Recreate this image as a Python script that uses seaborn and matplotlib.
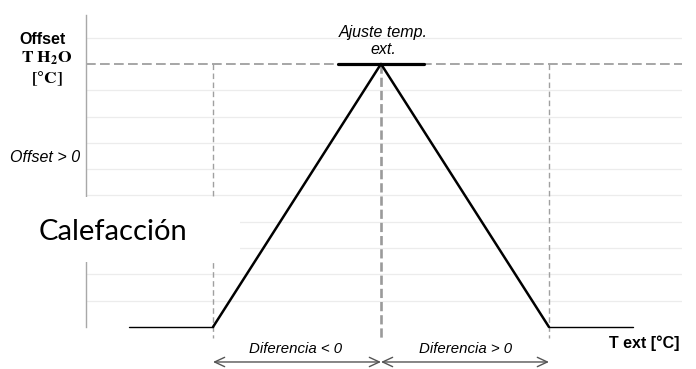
import matplotlib
matplotlib.use("Agg")
import matplotlib.pyplot as plt
import seaborn as sns
import pandas as pd
from matplotlib.patches import Rectangle

# ---- data ----
ramp_t = [-5, 0, 5]            # T ext at ramp corners
ramp_offset = [0, 10, 0]       # offset T H2O
left_flat_t = [-7.5, -5]
right_flat_t = [5, 7.5]
flat_offset = [0, 0]
peak_bar_t = [-1.27, 1.27]
peak_bar_offset = [10, 10]
marker_t = [-5, 0, 5]          # vertical dashed guides
grid_levels = [1, 2, 3, 4, 5, 6, 7, 8, 9, 11]
setpoint_level = 10

sns.set_theme(style="white")
plt.rcParams["font.family"] = ["Liberation Sans", "DejaVu Sans"]

W, H = 696, 369
fig = plt.figure(figsize=(W / 100, H / 100), dpi=100)
ax = fig.add_axes([86 / W, 1 - 327 / H, (682 - 86) / W, 312 / H])
ax.set_xlim(-8.78, 8.96)
ax.set_ylim(0, 11.86)

def fx(px):
    return px / W

def fy(py):
    return 1 - py / H

# light grid lines
for g in grid_levels:
    ax.axhline(g, color="#ececec", lw=0.9, zorder=0)

# set-point dashed line
ax.axhline(setpoint_level, color="#a6a6a6", lw=1.4, dashes=(5, 2.2), zorder=1)

# vertical dashed guides
for t in marker_t:
    if t == 0:
        ax.plot([t, t], [setpoint_level, -0.4], color="#9a9a9a", lw=1.9,
                dashes=(3.5, 1.5), clip_on=False, zorder=1)
    else:
        ax.plot([t, t], [setpoint_level, -0.4], color="#a0a0a0", lw=1.0,
                dashes=(4, 2.5), clip_on=False, zorder=1)

# main curve
df_ramp = pd.DataFrame({"t": ramp_t, "o": ramp_offset})
sns.lineplot(data=df_ramp, x="t", y="o", ax=ax, color="black", lw=1.8,
             sort=False, estimator=None, zorder=3, clip_on=False)
for xs in (left_flat_t, right_flat_t):
    d = pd.DataFrame({"t": xs, "o": flat_offset})
    sns.lineplot(data=d, x="t", y="o", ax=ax, color="black", lw=1.0,
                 estimator=None, zorder=3, clip_on=False)
d = pd.DataFrame({"t": peak_bar_t, "o": peak_bar_offset})
sns.lineplot(data=d, x="t", y="o", ax=ax, color="black", lw=2.3,
             estimator=None, zorder=4, clip_on=False)

ax.set_xlabel("")
ax.set_ylabel("")
ax.set_xticks([])
ax.set_yticks([])
for s in ("top", "right", "bottom"):
    ax.spines[s].set_visible(False)
ax.spines["left"].set_color("#a8a8a8")
ax.spines["left"].set_linewidth(1.0)

# double arrows below the axis
arrow_y = -1.33
for a, b in ((marker_t[0], marker_t[1]), (marker_t[1], marker_t[2])):
    ax.annotate("", xy=(b, arrow_y), xytext=(a, arrow_y),
                arrowprops=dict(arrowstyle="<->,head_length=0.6,head_width=0.28",
                                color="#555555", lw=1.0, shrinkA=0, shrinkB=0),
                annotation_clip=False)

# labels
fig.text(fx(42), fy(39), "Offset", ha="center", va="center",
         fontsize=11.5, fontweight="bold", color="black")
fig.text(fx(47), fy(58), r"$\mathbf{T\ H_2O}$", ha="center", va="center",
         fontsize=12.5, math_fontfamily="stix", color="black")
fig.text(fx(47), fy(79), r"$\mathbf{[°C]}$", ha="center", va="center",
         fontsize=12.5, math_fontfamily="stix", color="black")
fig.text(fx(45), fy(157), "Offset > 0", ha="center", va="center",
         fontsize=11.5, style="italic", color="black")
fig.text(fx(383), fy(32), "Ajuste temp.", ha="center", va="center",
         fontsize=11.5, style="italic", color="black")
fig.text(fx(383), fy(50), "ext.", ha="center", va="center",
         fontsize=11.5, style="italic", color="black")
fig.text(fx(296), fy(349), "Diferencia < 0", ha="center", va="center",
         fontsize=10.8, style="italic", color="black")
fig.text(fx(466), fy(349), "Diferencia > 0", ha="center", va="center",
         fontsize=10.8, style="italic", color="black")
fig.text(fx(609), fy(343), "T ext [°C]", ha="left", va="center",
         fontsize=11.5, fontweight="bold", color="black")

# white block behind "Calefacción" (breaks axis and guides)
fig.patches.append(Rectangle((fx(0), fy(262)), fx(240), (262 - 197) / H,
                             transform=fig.transFigure, facecolor="white",
                             edgecolor="none", zorder=5))
fig.text(fx(39), fy(240), "Calefacción", ha="left", va="baseline",
         fontsize=21, family=["Lato", "DejaVu Sans"], color="black", zorder=6)

fig.savefig("out.png", dpi=100, facecolor="white")
